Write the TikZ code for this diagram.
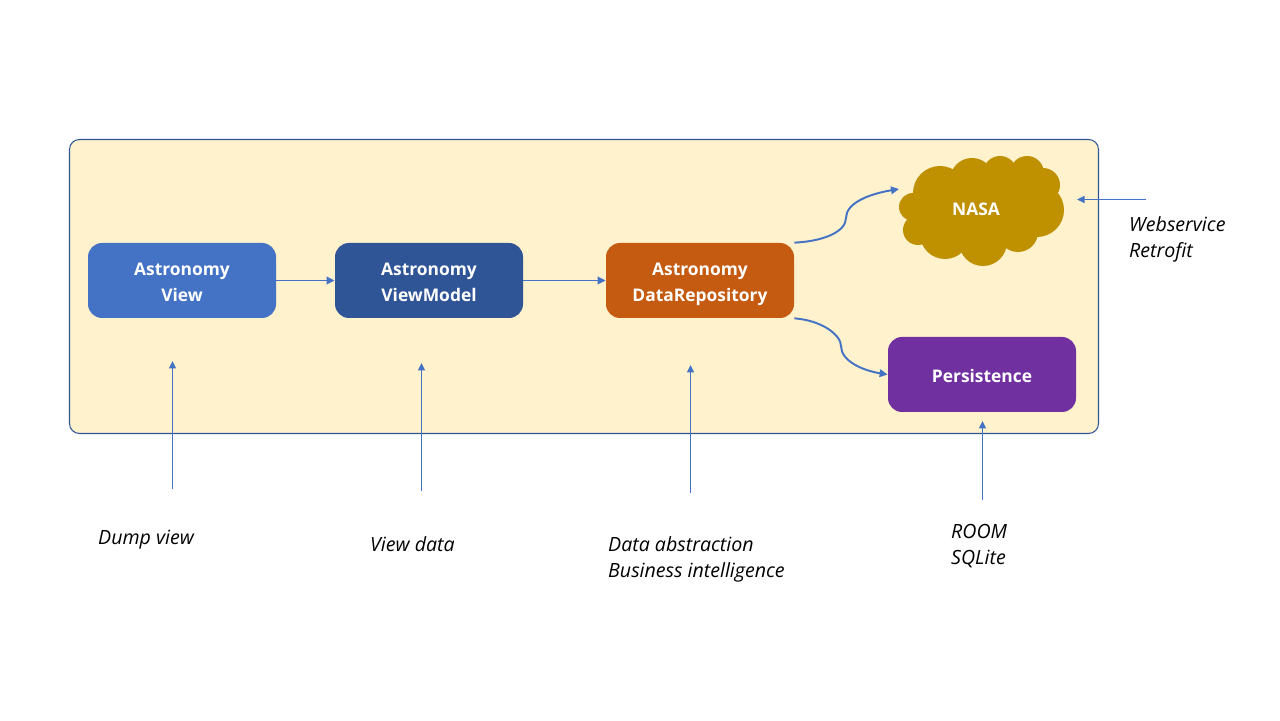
\documentclass[tikz,border=0pt]{standalone}
\usepackage{fontspec}
\setmainfont{Open Sans}
\usetikzlibrary{arrows.meta}
\definecolor{framefill}{HTML}{FFF2CC}
\definecolor{frameline}{HTML}{2F5597}
\definecolor{arrowblue}{HTML}{4472C4}
\definecolor{viewblue}{HTML}{4472C4}
\definecolor{modelblue}{HTML}{2F5597}
\definecolor{repoorange}{HTML}{C55A11}
\definecolor{persistpurple}{HTML}{7030A0}
\definecolor{cloudgold}{HTML}{BF9000}
\tikzset{
	block/.style={rounded corners=0.28cm, minimum width=3.76cm, minimum height=1.5cm, align=center, text depth=1.1pt, text=white, font=\fontsize{9.9}{14.7}\selectfont\bfseries},
	flow/.style={-{Triangle[length=0.16cm,width=0.15cm]}, arrowblue, line width=1.1pt},
	pointer/.style={-{Triangle[length=0.15cm,width=0.14cm]}, arrowblue, line width=0.6pt},
	remark/.style={anchor=west, align=left, font=\fontsize{11.15}{14.7}\selectfont\itshape}
}

\begin{document}
\begin{tikzpicture}
	\useasboundingbox (0,0) rectangle (25.6,14.4);

	\node[draw=frameline, fill=framefill, line width=0.6pt, rounded corners=0.2cm, minimum width=20.58cm, minimum height=5.88cm] (frame) at (11.68,8.67) {};

	\node[block, fill=viewblue] (view) at (3.64,8.79) {\strut Astronomy\\\strut View};
	\node[block, fill=modelblue] (viewmodel) at (8.58,8.79) {\strut Astronomy\\\strut ViewModel};
	\node[block, fill=repoorange] (repo) at (14,8.79) {\strut Astronomy\\\strut DataRepository};
	\node[block, fill=persistpurple] (persist) at (19.64,6.91) {\strut Persistence};

	% cloud is a heap of circles
	\fill[cloudgold] (19.6,10.26) ellipse (1.3 and 0.75);
	\foreach \cx/\cy/\cr in {18.8/10.54/0.54, 19.44/10.8/0.44, 20/10.94/0.34, 20.54/10.94/0.34, 20.86/10.7/0.34, 20.74/10.2/0.54, 20.36/9.76/0.4, 19.66/9.56/0.48, 18.9/9.72/0.5, 18.36/9.8/0.3, 18.26/10.26/0.28}
		\fill[cloudgold] (\cx,\cy) circle (\cr);
	\node[text=white, font=\fontsize{9.9}{14.7}\selectfont\bfseries] (nasa) at (19.52,10.22) {NASA};

	\draw[flow] (view) -- (viewmodel);
	\draw[flow] (viewmodel) -- (repo);

	\coordinate (nasain) at (17.98,10.62);
	\coordinate (nasamid) at (16.92,10.04);
	\coordinate (persistmid) at (16.82,7.48);
	\draw[flow] (repo.north east) .. controls +(0.62,0.03) and +(0,-0.26) .. (nasamid) .. controls +(0,0.3) and +(-0.6,-0.1) .. (nasain);
	\draw[flow] (repo.south east) .. controls +(0.55,-0.04) and +(0,0.22) .. (persistmid) .. controls +(0,-0.3) and +(-0.5,0.08) .. (persist.west);

	\coordinate (dumpfrom) at (3.45,4.62);
	\coordinate (dumpto) at (3.45,7.18);
	\coordinate (datafrom) at (8.43,4.58);
	\coordinate (datato) at (8.43,7.14);
	\coordinate (abstractfrom) at (13.81,4.54);
	\coordinate (abstractto) at (13.81,7.1);
	\coordinate (roomfrom) at (19.65,4.4);
	\coordinate (roomto) at (19.65,5.98);
	\coordinate (webfrom) at (22.92,10.41);
	\coordinate (webto) at (21.54,10.41);
	\draw[pointer] (dumpfrom) -- (dumpto);
	\draw[pointer] (datafrom) -- (datato);
	\draw[pointer] (abstractfrom) -- (abstractto);
	\draw[pointer] (roomfrom) -- (roomto);
	\draw[pointer] (webfrom) -- (webto);

	\node[remark] (dumpnote) at (1.84,3.6) {Dump view};
	\node[remark] (datanote) at (7.28,3.52) {View data};
	\node[remark] (abstractnote) at (12.04,3.22) {Data abstraction\\Business intelligence};
	\node[remark] (roomnote) at (18.9,3.48) {ROOM\\SQLite};
	\node[remark] (webnote) at (22.46,9.62) {Webservice\\Retrofit};
\end{tikzpicture}
\end{document}
